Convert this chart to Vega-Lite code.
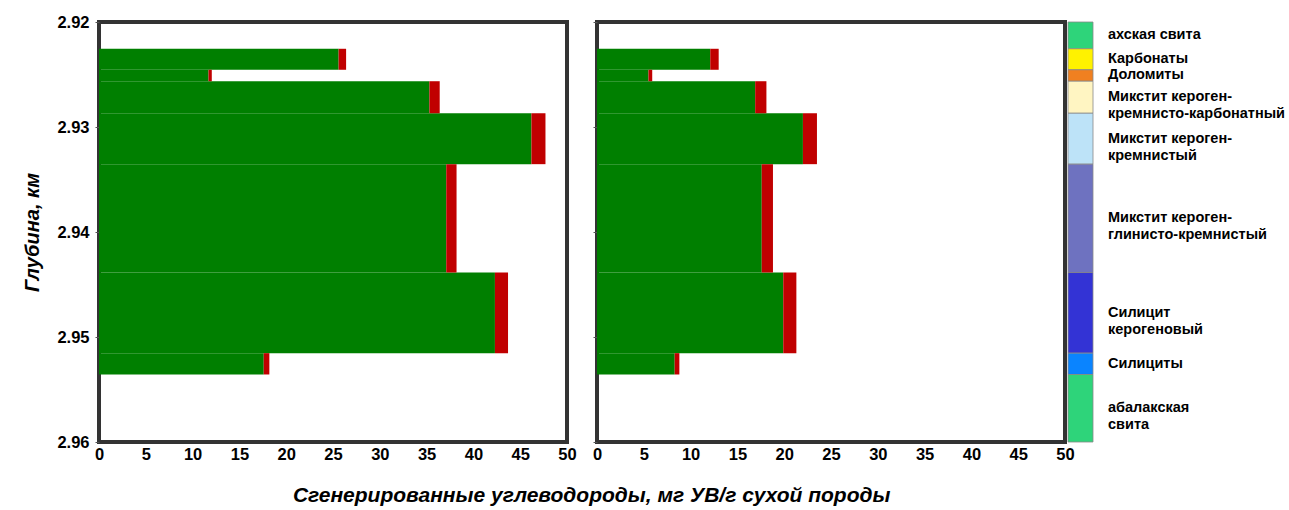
{
  "$schema": "https://vega.github.io/schema/vega-lite/v6.json",
  "padding": {"left": 20, "top": 12, "right": 0, "bottom": 0},
  "background": "white",
  "title": {"text": "Сгенерированные углеводороды, мг УВ/г сухой породы", "orient": "bottom", "anchor": "start", "dx": 272, "offset": 20, "font": "Liberation Sans", "fontSize": 21, "fontWeight": "bold", "fontStyle": "italic", "color": "black"},
  "config": {
    "font": "Liberation Sans",
    "view": {"stroke": "#333333", "strokeWidth": 4},
    "axis": {"labelFont": "Liberation Sans", "labelFontWeight": "bold", "labelColor": "black", "labelFontSize": 16.5, "titleFont": "Liberation Sans", "titleFontWeight": "bold", "titleFontStyle": "italic", "titleFontSize": 20, "titleColor": "black", "grid": false, "domain": false, "tickColor": "#555555"}
  },
  "datasets": {
    "bars": [
      {"panel": "A", "top": 2.92255, "bottom": 2.92455, "g": 25.6, "t": 26.4},
      {"panel": "A", "top": 2.92455, "bottom": 2.92564, "g": 11.7, "t": 12.05},
      {"panel": "A", "top": 2.92564, "bottom": 2.92869, "g": 35.3, "t": 36.4},
      {"panel": "A", "top": 2.92869, "bottom": 2.93354, "g": 46.2, "t": 47.7},
      {"panel": "A", "top": 2.93354, "bottom": 2.94386, "g": 37.1, "t": 38.2},
      {"panel": "A", "top": 2.94386, "bottom": 2.95154, "g": 42.3, "t": 43.7},
      {"panel": "A", "top": 2.95154, "bottom": 2.95357, "g": 17.6, "t": 18.2},
      {"panel": "B", "top": 2.92255, "bottom": 2.92455, "g": 12.1, "t": 13.0},
      {"panel": "B", "top": 2.92455, "bottom": 2.92564, "g": 5.5, "t": 5.9},
      {"panel": "B", "top": 2.92564, "bottom": 2.92869, "g": 16.9, "t": 18.1},
      {"panel": "B", "top": 2.92869, "bottom": 2.93354, "g": 22.0, "t": 23.5},
      {"panel": "B", "top": 2.93354, "bottom": 2.94386, "g": 17.6, "t": 18.8},
      {"panel": "B", "top": 2.94386, "bottom": 2.95154, "g": 19.9, "t": 21.3},
      {"panel": "B", "top": 2.95154, "bottom": 2.95357, "g": 8.3, "t": 8.8}
    ],
    "litho": [
      {"name": "ахская свита", "label": "ахская свита", "top": 2.92, "bottom": 2.92255},
      {"name": "Карбонаты", "label": "Карбонаты", "top": 2.92255, "bottom": 2.92455},
      {"name": "Доломиты", "label": "Доломиты", "top": 2.92455, "bottom": 2.92564},
      {"name": "Микстит кероген-кремнисто-карбонатный", "label": "Микстит кероген-\nкремнисто-карбонатный", "top": 2.92564, "bottom": 2.92869},
      {"name": "Микстит кероген-кремнистый", "label": "Микстит кероген-\nкремнистый", "top": 2.92869, "bottom": 2.93354},
      {"name": "Микстит кероген-глинисто-кремнистый", "label": "Микстит кероген-\nглинисто-кремнистый", "top": 2.93354, "bottom": 2.94386},
      {"name": "Силицит керогеновый", "label": "Силицит\nкерогеновый", "top": 2.94386, "bottom": 2.95154},
      {"name": "Силициты", "label": "Силициты", "top": 2.95154, "bottom": 2.95357},
      {"name": "абалакская свита", "label": "абалакская\nсвита", "top": 2.95357, "bottom": 2.96}
    ]
  },
  "bounds": "flush",
  "spacing": 30,
  "hconcat": [
    {
      "width": 468,
      "height": 420,
      "data": {"name": "bars"},
      "transform": [{"filter": "datum.panel === 'A'"}],
      "encoding": {
        "y": {"field": "top", "type": "quantitative", "scale": {"domain": [2.92, 2.96], "reverse": true, "nice": false, "zero": false},
              "axis": {"title": "Глубина, км", "values": [2.92, 2.93, 2.94, 2.95, 2.96], "format": ".2f", "tickSize": 4, "labelPadding": 6, "titlePadding": 14}},
        "y2": {"field": "bottom"}
      },
      "layer": [
        {"mark": {"type": "rect", "color": "#007F00"},
         "encoding": {
           "x": {"field": "g", "type": "quantitative", "scale": {"domain": [0, 50], "nice": false},
                 "axis": {"title": null, "values": [0, 5, 10, 15, 20, 25, 30, 35, 40, 45, 50], "ticks": false, "labelPadding": 4, "labelFlush": false}},
           "x2": {"datum": 0}}},
        {"mark": {"type": "rect", "color": "#C00000"},
         "encoding": {"x": {"field": "g", "type": "quantitative"}, "x2": {"field": "t"}}}
      ]
    },
    {
      "bounds": "flush",
      "spacing": 3,
      "hconcat": [
        {
          "width": 468,
          "height": 420,
          "data": {"name": "bars"},
          "transform": [{"filter": "datum.panel === 'B'"}],
          "encoding": {
            "y": {"field": "top", "type": "quantitative", "scale": {"domain": [2.92, 2.96], "reverse": true, "nice": false, "zero": false},
                  "axis": {"title": null, "labels": false, "values": [2.92, 2.93, 2.94, 2.95, 2.96], "tickSize": 4}},
            "y2": {"field": "bottom"}
          },
          "layer": [
            {"mark": {"type": "rect", "color": "#007F00"},
             "encoding": {
               "x": {"field": "g", "type": "quantitative", "scale": {"domain": [0, 50], "nice": false},
                     "axis": {"title": null, "values": [0, 5, 10, 15, 20, 25, 30, 35, 40, 45, 50], "ticks": false, "labelPadding": 4, "labelFlush": false}},
               "x2": {"datum": 0}}},
            {"mark": {"type": "rect", "color": "#C00000"},
             "encoding": {"x": {"field": "g", "type": "quantitative"}, "x2": {"field": "t"}}}
          ]
        },
        {
          "width": 25,
          "height": 420,
          "view": {"stroke": null},
          "data": {"name": "litho"},
          "encoding": {
            "y": {"field": "top", "type": "quantitative", "scale": {"domain": [2.92, 2.96], "reverse": true, "nice": false, "zero": false}, "axis": null}
          },
          "layer": [
            {"mark": {"type": "rect", "stroke": "#888888", "strokeWidth": 0.8},
             "encoding": {
               "y2": {"field": "bottom"},
               "color": {"field": "name", "type": "nominal", "legend": null,
                 "scale": {"domain": ["ахская свита", "Карбонаты", "Доломиты", "Микстит кероген-кремнисто-карбонатный", "Микстит кероген-кремнистый", "Микстит кероген-глинисто-кремнистый", "Силицит керогеновый", "Силициты", "абалакская свита"],
                           "range": ["#2ED47A", "#FFF200", "#F08020", "#FFF5C2", "#BDE3F8", "#6E72C0", "#3333D5", "#0A84FF", "#2ED47A"]}}}},
            {"transform": [{"calculate": "(datum.top + datum.bottom) / 2", "as": "mid"}],
             "mark": {"type": "text", "align": "left", "baseline": "middle", "dx": 15, "fontSize": 14.5, "fontWeight": "bold", "lineBreak": "\n", "lineHeight": 17, "color": "black"},
             "encoding": {"x": {"value": "width"}, "y": {"field": "mid", "type": "quantitative"}, "text": {"field": "label"}}}
          ]
        }
      ]
    }
  ]
}
